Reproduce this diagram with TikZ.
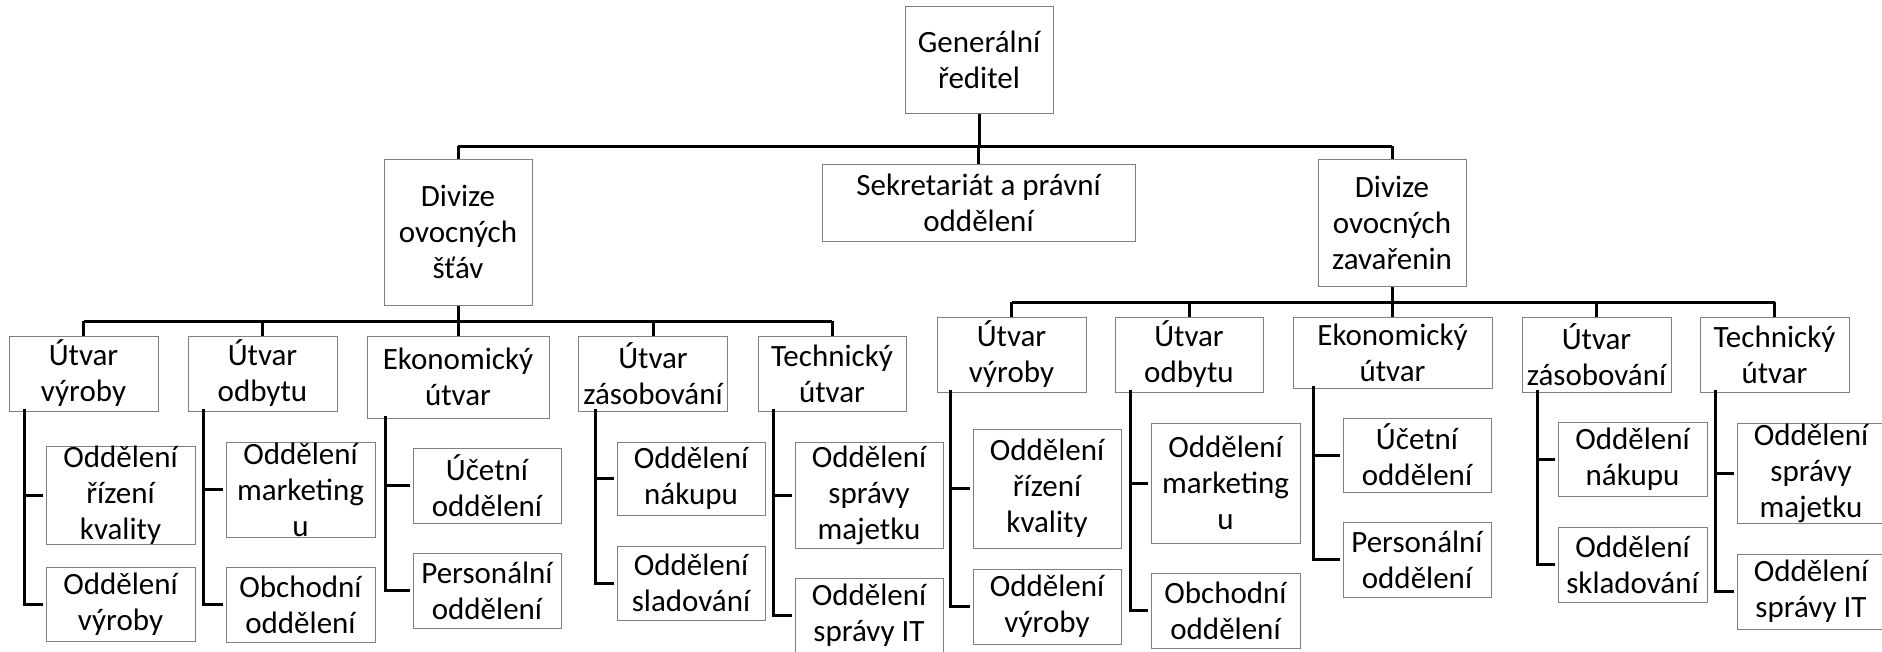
\documentclass[tikz,border=0pt]{standalone}
\usepackage{fontspec}
\setmainfont{Carlito}
\newcommand{\boxfont}{\fontsize{23.25}{27}\selectfont}
\tikzset{every picture/.style={line width=0.75pt}}
\tikzset{
  unit/.style={draw={rgb, 255:red, 128; green, 128; blue, 128}, line width=0.75pt, align=center, inner sep=0pt, font=\boxfont, minimum width=111.75pt, minimum height=56.25pt},
  link/.style={line width=2.25pt},
}

\begin{document}
\begin{tikzpicture}[x=0.75pt,y=0.75pt,yscale=-1,xscale=1]
	\useasboundingbox (0,0) rectangle (1882,651);

	% Top
	\node[unit, minimum width=111pt, minimum height=80.25pt] (gr) at (979,60) {Generální\\ředitel};
	% Divisions
	\node[unit, minimum width=111pt, minimum height=109.5pt] (divL) at (458,232) {Divize\\ovocných\\šťáv};
	\node[unit, minimum width=234.75pt, minimum height=57.75pt] (sek) at (978.5,202.5) {Sekretariát a právní\\oddělení};
	\node[unit, minimum width=111pt, minimum height=95.25pt] (divR) at (1392,222.5) {Divize\\ovocných\\zavařenin};

	% Units, left division
	\node[unit] (uvL) at (83.5,373.5) {Útvar\\výroby};
	\node[unit] (uoL) at (262.5,373.5) {Útvar\\odbytu};
	\node[unit, minimum width=136.5pt, minimum height=61.5pt] (ekL) at (458,377) {Ekonomický\\útvar};
	\node[unit] (uzL) at (653,373.5) {Útvar\\zásobování};
	\node[unit, minimum width=111pt] (tuL) at (832,373.5) {Technický\\útvar};

	% Units, right division
	\node[unit] (uvR) at (1011.5,354.5) {Útvar\\výroby};
	\node[unit, minimum width=111pt] (uoR) at (1189,354.5) {Útvar\\odbytu};
	\node[unit, minimum width=149.25pt, minimum height=53.25pt] (ekR) at (1392.5,352.5) {Ekonomický\\útvar};
	\node[unit] (uzR) at (1596.5,354.5) {Útvar\\zásobování};
	\node[unit] (tuR) at (1774.5,354.5) {Technický\\útvar};

	% Departments, left division
	\node[unit, minimum height=71.25pt] (rkL) at (120.5,495.5) {Oddělení\\řízení\\kvality};
	\node[unit, minimum height=55.5pt] (ovL) at (120.5,604) {Oddělení\\výroby};
	\node[unit, minimum height=71.25pt] (mkL) at (300.5,489.5) {Oddělení\\marketing\\u};
	\node[unit] (obL) at (300.5,604.5) {Obchodní\\oddělení};
	\node[unit, minimum width=111pt] (ucL) at (487,485.5) {Účetní\\oddělení};
	\node[unit, minimum width=111pt] (peL) at (487,590.5) {Personální\\oddělení};
	\node[unit, minimum width=111pt, minimum height=54.75pt] (nkL) at (691,478.5) {Oddělení\\nákupu};
	\node[unit, minimum width=111pt, minimum height=55.5pt] (slL) at (691,583) {Oddělení\\sladování};
	\node[unit, minimum width=111pt, minimum height=79.5pt] (smL) at (869,495) {Oddělení\\správy\\majetku};
	\node[unit, minimum width=111pt, minimum height=55.5pt] (siL) at (869,615) {Oddělení\\správy IT};

	% Departments, right division
	\node[unit, minimum width=111pt, minimum height=89.25pt] (rkR) at (1047,488.5) {Oddělení\\řízení\\kvality};
	\node[unit, minimum width=111pt] (ovR) at (1047,606.5) {Oddělení\\výroby};
	\node[unit, minimum height=90pt] (mkR) at (1225.5,483) {Oddělení\\marketing\\u};
	\node[unit] (obR) at (1225.5,610.5) {Obchodní\\oddělení};
	\node[unit, minimum width=111pt, minimum height=55.5pt] (ucR) at (1417,455) {Účetní\\oddělení};
	\node[unit, minimum width=111pt] (peR) at (1417,559.5) {Personální\\oddělení};
	\node[unit, minimum height=55.5pt] (nkR) at (1632.5,459) {Oddělení\\nákupu};
	\node[unit] (skR) at (1632.5,564.5) {Oddělení\\skladování};
	\node[unit, minimum width=111pt, minimum height=75pt] (smR) at (1811,473) {Oddělení\\správy\\majetku};
	\node[unit, minimum width=111pt] (siR) at (1811,591.5) {Oddělení\\správy IT};

	% Bus under the director
	\coordinate (busA) at (979,146);
	\draw[link] (gr.south) -- (busA);
	\draw[link] (busA -| divL.north) -- (busA -| divR.north);
	\foreach \n in {divL,sek,divR}
		\draw[link] (busA -| \n.north) -- (\n.north);

	% Bus under the left division
	\coordinate (busL) at (458,321);
	\draw[link] (divL.south) -- (busL);
	\draw[link] (busL -| uvL.north) -- (busL -| tuL.north);
	\foreach \n in {uvL,uoL,ekL,uzL,tuL}
		\draw[link] (busL -| \n.north) -- (\n.north);

	% Bus under the right division
	\coordinate (busR) at (1392,302);
	\draw[link] (divR.south) -- (busR);
	\draw[link] (busR -| uvR.north) -- (busR -| tuR.north);
	\foreach \n in {uvR,uoR,ekR,uzR,tuR}
		\draw[link] (busR -| \n.north) -- (\n.north);

	% Spines to the departments
	\foreach \p/\a/\b/\s in {uvL/rkL/ovL/12, uoL/mkL/obL/12, ekL/ucL/peL/14.25, uzL/nkL/slL/12.75, tuL/smL/siL/12,
		uvR/rkR/ovR/10.5, uoR/mkR/obR/12, ekR/ucR/peR/15.75, uzR/nkR/skR/12, tuR/smR/siR/12} {
		\draw[link] ([xshift=\s pt,yshift=-2pt]\p.south west) |- ([xshift=-2pt]\a.west);
		\draw[link] ([xshift=\s pt,yshift=-2pt]\p.south west) |- ([xshift=-2pt]\b.west);
	}

\end{tikzpicture}
\end{document}
